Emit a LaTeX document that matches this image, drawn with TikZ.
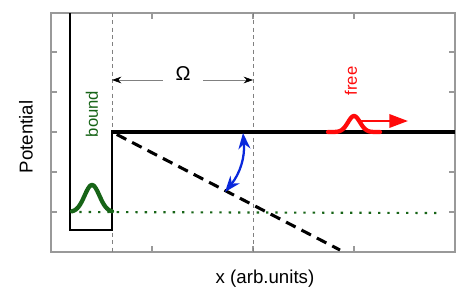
\documentclass[tikz,border=0pt]{standalone}
\usepackage{fontspec}
\setmainfont{Liberation Sans}
\usepackage{tikz}
\usetikzlibrary{arrows.meta, calc}
\definecolor{boundgreen}{HTML}{176417}
\definecolor{freered}{HTML}{FF0A0A}
\definecolor{fieldblue}{HTML}{0A28DC}
\definecolor{axisgray}{HTML}{999999}

\begin{document}
\begin{tikzpicture}[
    x=0.75pt, y=-0.75pt,
    frame/.style={draw=axisgray, line width=0.8pt},
    guide/.style={draw=gray, line width=0.5pt, dash pattern=on 3pt off 2.5pt},
    well/.style={draw=black, line width=2pt},
    level/.style={draw=black, line width=3pt},
    tilt/.style={draw=black, line width=2.3pt, dash pattern=on 8pt off 5pt, dash phase=-4pt},
    dotline/.style={draw=boundgreen, line width=1.6pt, dash pattern=on 1.8pt off 5.2pt},
    wave/.style={line width=3.2pt, line cap=round},
    dim/.style={draw=gray, line width=0.5pt, -{Stealth[black, length=7pt, width=5pt]}},
    axlabel/.style={font=\fontsize{14}{16}\selectfont},
    tag/.style={font=\fontsize{12.5}{14}\selectfont, rotate=90},
]
    \useasboundingbox (0,0) rectangle (463,300);

    % Axes box and ticks
    \draw[frame] (51,13) rectangle (455,252);
    \foreach \y in {52,92,132,172,212} {
        \draw[frame] (51,\y) -- ++(6,0);
        \draw[frame] (455,\y) -- ++(-6,0);
    }
    \foreach \x in {152,253,354} {
        \draw[frame] (\x,252) -- ++(0,-6);
        \draw[frame] (\x,13) -- ++(0,6);
    }

    % Guides
    \draw[guide] (112,13) -- (112,252);
    \draw[guide] (253,13) -- (253,252);

    % Bound level and tilted potential
    \draw[dotline] (70,212) -- (443,213);
    \draw[tilt] (112,132) -- (340,250);

    % Well
    \draw[well] (70,13) -- (70,230) -- (112,230) -- (112,132);
    \draw[level] (111,132) -- (455,132);

    % Wave packets
    \draw[wave, boundgreen] plot[domain=72:112, samples=50, smooth]
        (\x, {212-27*exp(-((\x-92)/10.5)^2)});
    \draw[wave, freered] plot[domain=328:380, samples=60, smooth]
        (\x, {132-16*exp(-((\x-354)/8.5)^2)});

    % Free motion
    \coordinate (free start) at (359,121);
    \coordinate (free end) at (408,121);
    \draw[freered, line width=1.8pt, -{Triangle[length=14pt, width=10pt]}] (free start) -- (free end);

    % Field coupling
    \coordinate (upper) at (243,133);
    \coordinate (lower) at (225,192);
    \draw[fieldblue, line width=1.7pt, {Stealth[length=12pt, width=9pt]}-{Stealth[length=12pt, width=9pt]}]
        (upper) to[bend left=22] (lower);

    % Omega span
    \node[font=\fontsize{15}{17}\selectfont, minimum width=30pt, inner sep=0pt] (omega) at (183,74) {Ω};
    \coordinate (span left) at (112,80);
    \coordinate (span right) at (253,80);
    \draw[dim] (omega.west |- span left) -- (span left);
    \draw[dim] (omega.east |- span right) -- (span right);

    % Labels
    \node[tag, text=boundgreen] (bound) at (92,114) {bound};
    \node[tag, text=freered] (free) at (351,81) {free};
    \node[axlabel, rotate=90] (ylab) at (26,137) {Potential};
    \node[axlabel] (xlab) at (265,279) {x (arb.units)};

\end{tikzpicture}
\end{document}
